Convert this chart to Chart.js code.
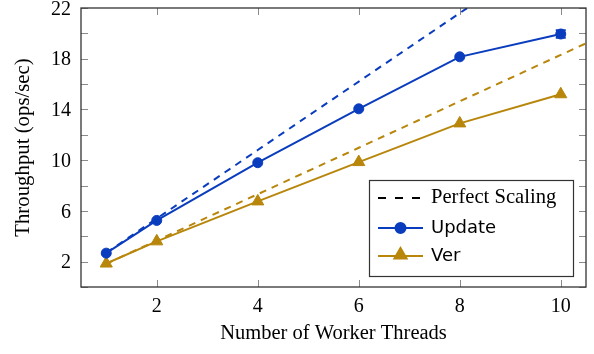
<!DOCTYPE html>
<html><head><meta charset="utf-8">
<script src="https://cdn.jsdelivr.net/npm/chart.js@4/dist/chart.umd.min.js"></script>
<style>html,body{margin:0;padding:0;background:#fff}</style>
</head><body>
<canvas id="c" width="594" height="354" style="display:block;width:594px;height:354px"></canvas>
<script>
// ---- data ----
const threads = [1, 2, 4, 6, 8, 10];
const updateVals = [2.67, 5.25, 9.8, 14.05, 18.15, 19.95];
const updateErr = [0, 0, 0, 0, 0, 0.3];
const verVals = [1.85, 3.6, 6.75, 9.85, 12.9, 15.2];
const perfectThreads = [1, 2, 4, 6, 8, 10, 11];
const perfectUpdate = [2.7, 5.4, 10.8, 16.2, 21.6, 27.0, 29.7];
const perfectVer = [1.83, 3.66, 7.32, 10.98, 14.64, 18.3, 20.13];
const xTickLabels = [2, 4, 6, 8, 10];
const yTickLabels = [2, 6, 10, 14, 18, 22];
const legendLabels = ['Perfect Scaling', 'Update', 'Ver'];

const BLUE = '#0a3cbe';
const GOLD = '#b8860b';
const SERIF = "'Liberation Serif','Times New Roman',serif";
const SANS = "'DejaVu Sans',sans-serif";
const DASH = [7, 6];

const pts = (xs, ys) => xs.map((x, i) => ({x, y: ys[i]}));

const decor = {
  id: 'decor',
  beforeDatasetsDraw(chart) {
    const {ctx, chartArea: a, scales: {x, y}} = chart;
    ctx.save();
    ctx.strokeStyle = '#8a8a8a';
    ctx.lineWidth = 1;
    const TL = 7;
    ctx.beginPath();
    for (let v = 0; v <= 22; v += 2) {
      const py = Math.round(y.getPixelForValue(v)) + 0.5;
      ctx.moveTo(a.left, py); ctx.lineTo(a.left + TL, py);
      ctx.moveTo(a.right, py); ctx.lineTo(a.right - TL, py);
    }
    xTickLabels.forEach(v => {
      const px = Math.round(x.getPixelForValue(v)) + 0.5;
      ctx.moveTo(px, a.bottom); ctx.lineTo(px, a.bottom - TL);
      ctx.moveTo(px, a.top); ctx.lineTo(px, a.top + TL);
    });
    ctx.stroke();
    ctx.restore();
  },
  afterDatasetsDraw(chart) {
    const {ctx, chartArea: a, scales: {x, y}} = chart;
    ctx.save();
    // error bars
    ctx.strokeStyle = BLUE; ctx.lineWidth = 2;
    threads.forEach((t, i) => {
      const e = updateErr[i];
      if (!e) return;
      const px = x.getPixelForValue(t);
      const p1 = y.getPixelForValue(updateVals[i] + e);
      const p2 = y.getPixelForValue(updateVals[i] - e);
      ctx.beginPath();
      ctx.moveTo(px, p1); ctx.lineTo(px, p2);
      ctx.moveTo(px - 5, p1); ctx.lineTo(px + 5, p1);
      ctx.moveTo(px - 5, p2); ctx.lineTo(px + 5, p2);
      ctx.stroke();
    });
    // frame
    ctx.strokeStyle = '#333'; ctx.lineWidth = 1.3;
    ctx.strokeRect(a.left, a.top, a.right - a.left, a.bottom - a.top);
    // legend
    const lx = 369, ly = 180, lw = 204, lh = 96;
    ctx.fillStyle = '#fff';
    ctx.fillRect(lx, ly, lw, lh);
    ctx.strokeStyle = '#333'; ctx.lineWidth = 1.2;
    ctx.strokeRect(lx + 0.5, ly + 0.5, lw, lh);
    const rows = [198, 228, 256];
    const sx0 = 378, sx1 = 423, tx = 431;
    ctx.strokeStyle = '#000'; ctx.lineWidth = 2; ctx.setLineDash([8, 9]);
    ctx.beginPath(); ctx.moveTo(sx0, rows[0]); ctx.lineTo(sx1, rows[0]); ctx.stroke();
    ctx.setLineDash([]);
    ctx.fillStyle = '#000'; ctx.textBaseline = 'middle'; ctx.textAlign = 'left';
    ctx.font = '20.6px ' + SERIF;
    ctx.fillText(legendLabels[0], tx, rows[0]);
    ctx.strokeStyle = BLUE;
    ctx.beginPath(); ctx.moveTo(sx0, rows[1]); ctx.lineTo(sx1, rows[1]); ctx.stroke();
    Chart.helpers.drawPoint(ctx, {pointStyle: 'circle', radius: 5, borderWidth: 1}, (sx0 + sx1) / 2, rows[1]);
    ctx.fillStyle = BLUE; ctx.fill();
    ctx.strokeStyle = GOLD;
    ctx.beginPath(); ctx.moveTo(sx0, rows[2]); ctx.lineTo(sx1, rows[2]); ctx.stroke();
    ctx.fillStyle = GOLD;
    Chart.helpers.drawPoint(ctx, {pointStyle: 'triangle', radius: 7, borderWidth: 1}, (sx0 + sx1) / 2, rows[2] - 1);
    ctx.fill();
    ctx.fillStyle = '#000';
    ctx.font = '18px ' + SANS;
    ctx.fillText(legendLabels[1], tx, rows[1]);
    ctx.fillText(legendLabels[2], tx, rows[2]);
    ctx.restore();
  }
};

new Chart(document.getElementById('c'), {
  type: 'line',
  data: {
    datasets: [
      {label: 'Perfect Update', data: pts(perfectThreads, perfectUpdate), borderColor: BLUE, borderWidth: 2,
       borderDash: DASH, pointRadius: 0, fill: false, clip: 0, order: 3},
      {label: 'Perfect Ver', data: pts(perfectThreads, perfectVer), borderColor: GOLD, borderWidth: 2,
       borderDash: DASH, pointRadius: 0, fill: false, clip: 0, order: 3},
      {label: legendLabels[2], data: pts(threads, verVals), borderColor: GOLD, backgroundColor: GOLD, borderWidth: 2,
       pointStyle: 'triangle', pointRadius: 7, pointBorderWidth: 1, fill: false, clip: 0, order: 2},
      {label: legendLabels[1], data: pts(threads, updateVals), borderColor: BLUE, backgroundColor: BLUE, borderWidth: 2,
       pointStyle: 'circle', pointRadius: 5, pointBorderWidth: 1, fill: false, clip: 0, order: 1}
    ]
  },
  options: {
    responsive: false, animation: false, devicePixelRatio: 1,
    layout: {padding: {top: 7, right: 5, left: 0, bottom: 0}},
    plugins: {legend: {display: false}, tooltip: {enabled: false}},
    scales: {
      x: {
        type: 'linear', min: 0.5, max: 10.5,
        grid: {display: false, drawTicks: false}, border: {display: false},
        afterBuildTicks: s => { s.ticks = xTickLabels.map(v => ({value: v})); },
        afterFit: s => { s.height = 67; s.paddingLeft = 0; s.paddingRight = 0; },
        ticks: {color: '#000', font: {family: SERIF, size: 20}, padding: 8, maxRotation: 0, autoSkip: false},
        title: {display: true, text: 'Number of Worker Threads', color: '#000',
                font: {family: SERIF, size: 20.5}, padding: {top: 0, bottom: 8}}
      },
      y: {
        min: 0, max: 22,
        grid: {display: false, drawTicks: false}, border: {display: false},
        afterBuildTicks: s => { s.ticks = yTickLabels.map(v => ({value: v})); },
        afterFit: s => { s.width = 81; s.paddingTop = 0; s.paddingBottom = 0; },
        ticks: {color: '#000', font: {family: SERIF, size: 20}, padding: 10, autoSkip: false, labelOffset: 1.5},
        title: {display: true, text: 'Throughput (ops/sec)', color: '#000',
                font: {family: SERIF, size: 20.8}, padding: {top: 11, bottom: 0}}
      }
    }
  },
  plugins: [decor]
});
</script>
</body></html>
